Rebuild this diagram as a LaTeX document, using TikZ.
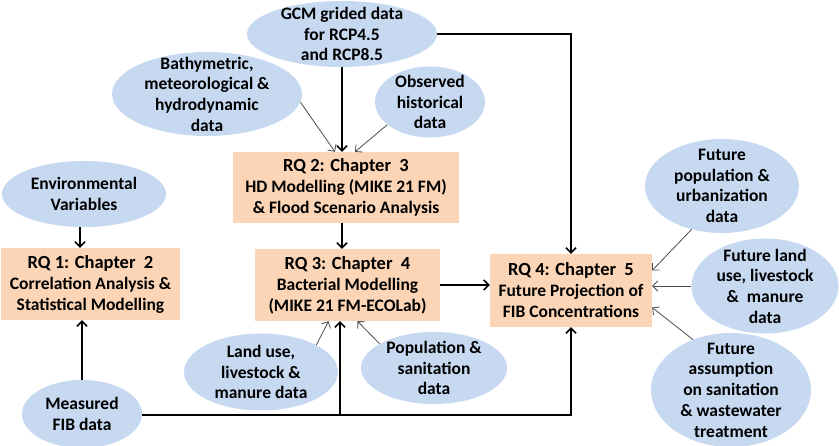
\documentclass[tikz,border=0pt]{standalone}
\usepackage{fontspec}
\setmainfont{Carlito}
\usepackage{xcolor}
\usepackage{tikz}
\usetikzlibrary{shapes.geometric,arrows.meta}

\definecolor{rqpeach}{HTML}{FBD5B5}
\definecolor{datablue}{HTML}{C6D9F1}
\newcommand{\rqhead}[1]{{\fontsize{18.5}{21}\selectfont #1}}

\begin{document}
\begin{tikzpicture}[x=1pt,y=-1pt,
  data/.style={ellipse,fill=datablue,inner sep=-40pt,align=center,
    font=\fontsize{17.5}{20.7}\selectfont\bfseries},
  rq/.style={rectangle,fill=rqpeach,inner sep=0pt,align=center,
    font=\fontsize{17.5}{21}\selectfont\bfseries},
  mainarr/.style={line width=1.6pt,-{Straight Barb[length=5pt,width=10pt]}},
  inarr/.style={line width=0.8pt,black!70,-{Straight Barb[length=5pt,width=10pt]}}]
  \useasboundingbox (0,0) rectangle (839,446);

  \node[rq,minimum width=179pt,minimum height=72pt] (rq1) at (90.5,284)
    {\rqhead{RQ 1: Chapter~ 2}\\Correlation Analysis \&\\Statistical Modelling};
  \node[rq,minimum width=226pt,minimum height=71pt] (rq2) at (346,187.5)
    {\rqhead{RQ 2: Chapter~ 3}\\HD Modelling (MIKE 21 FM)\\\& Flood Scenario Analysis};
  \node[rq,minimum width=185pt,minimum height=72pt] (rq3) at (347.5,285)
    {\rqhead{RQ 3: Chapter~ 4}\\Bacterial Modelling\\(MIKE 21 FM-ECOLab)};
  \node[rq,minimum width=162pt,minimum height=73pt] (rq4) at (571,290.5)
    {\rqhead{RQ 4: Chapter~ 5}\\Future Projection of\\FIB Concentrations};

  \node[data,minimum width=190pt,minimum height=66pt] (gcm) at (342,34)
    {GCM grided data\\for RCP4.5\\and RCP8.5};
  \node[data,minimum width=190pt,minimum height=84pt] (bathy) at (207,94)
    {Bathymetric,\\meteorological \&\\hydrodynamic\\data};
  \node[data,minimum width=110pt,minimum height=71pt] (obs) at (430,102)
    {Observed\\historical\\data};
  \node[data,minimum width=164pt,minimum height=66pt] (env) at (84,194)
    {Environmental\\Variables};
  \node[data,minimum width=120pt,minimum height=68pt] (meas) at (82,414)
    {Measured\\FIB data};
  \node[data,minimum width=154pt,minimum height=77pt] (land) at (261,372)
    {Land use,\\livestock \&\\manure data};
  \node[data,minimum width=146pt,minimum height=72pt] (pop) at (434,368)
    {Population \&\\sanitation\\data};
  \node[data,minimum width=154pt,minimum height=94pt] (fpop) at (722,186)
    {Future\\population \&\\urbanization\\data};
  \node[data,minimum width=147pt,minimum height=95pt] (fland) at (765,286)
    {Future land\\use, livestock\\\&~ manure\\data};
  \node[data,minimum width=160pt,minimum height=114pt] (fass) at (731,390)
    {Future\\assumption\\on sanitation\\\& wastewater\\treatment};

  \coordinate (jn) at (340,415);

  \draw[mainarr] (gcm.south) -- (gcm.south |- rq2.north);
  \draw[mainarr] (gcm.east) -| (rq4.north);
  \draw[inarr] (bathy.-5) -- ([xshift=-11pt]rq2.north);
  \draw[inarr] (obs.208) -- ([xshift=9pt]rq2.north);
  \draw[mainarr] (rq2.south -| gcm.south) -- (rq3.north -| gcm.south);
  \draw[mainarr] ([xshift=-4pt]env.south) -- ([xshift=-4pt]env.south |- rq1.north);
  \draw[mainarr] (meas.north) -- (meas.north |- rq1.south);
  \draw[mainarr] (rq3.east) -- (rq3.east -| rq4.west);
  \draw[mainarr] (meas.east |- jn) -| (rq4.south);
  \draw[mainarr] (jn) -- (jn |- rq3.south);
  \draw[inarr] (land.26) -- ([xshift=-19pt]rq3.south);
  \draw[inarr] (pop.156) -- ([xshift=10pt]rq3.south);
  \draw[inarr] (fpop.235) -- ([yshift=20pt]rq4.east);
  \draw[inarr] (fland.west) -- (fland.west -| rq4.east);
  \draw[inarr] (fass.127) -- ([yshift=-17pt]rq4.east);
\end{tikzpicture}
\end{document}
